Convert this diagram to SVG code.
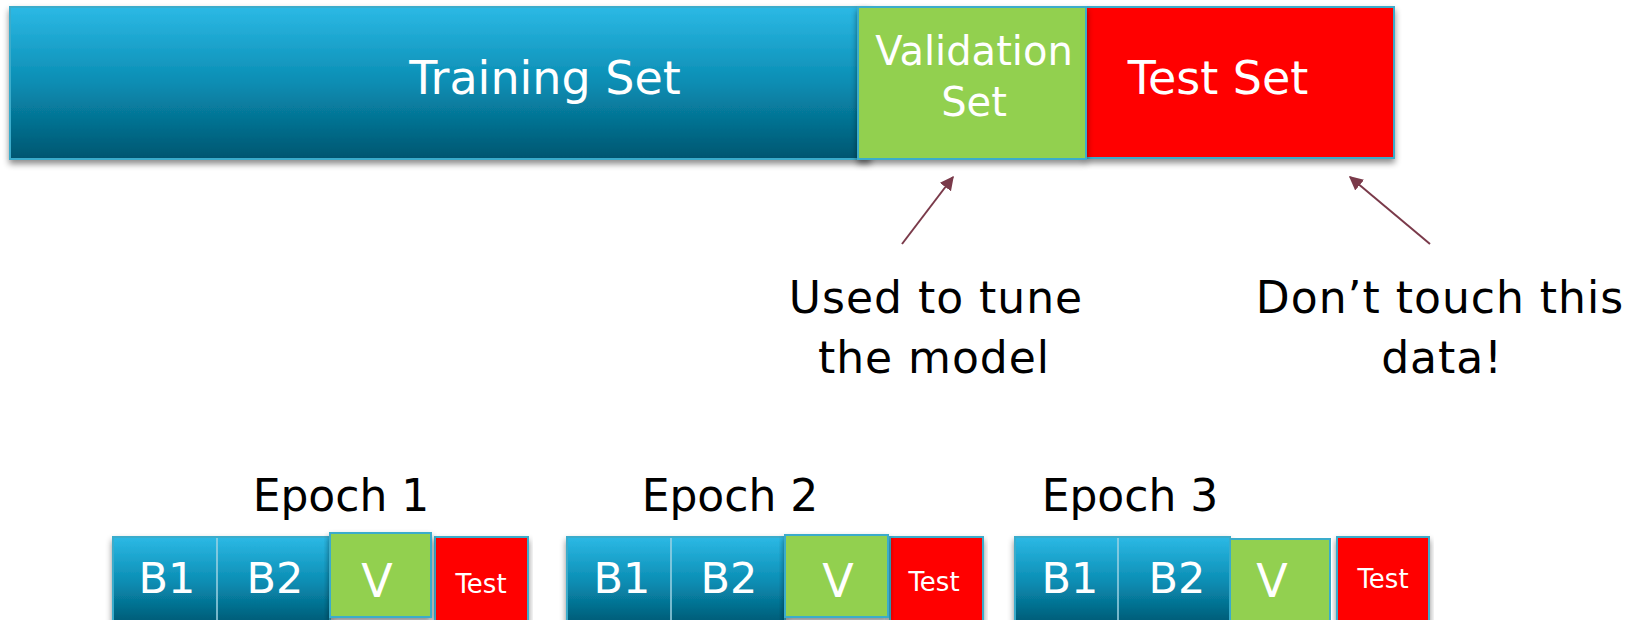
<svg xmlns="http://www.w3.org/2000/svg" width="1644" height="620" viewBox="0 0 1644 620">
  <defs>
    <linearGradient id="blueGrad" x1="0" y1="0" x2="0" y2="1">
      <stop offset="0" stop-color="#2cb9e5"/>
      <stop offset="0.5" stop-color="#0a8db3"/>
      <stop offset="1" stop-color="#005670"/>
    </linearGradient>
    <filter id="shadow" x="-5%" y="-10%" width="110%" height="130%">
      <feDropShadow dx="0" dy="4" stdDeviation="3" flood-color="#000" flood-opacity="0.45"/>
    </filter>
    <marker id="arrowHead" viewBox="0 0 10 10" refX="9" refY="5" markerWidth="7" markerHeight="7" orient="auto" markerUnits="strokeWidth">
      <path d="M0,0 L10,5 L0,10 z" fill="#7a3a4a"/>
    </marker>
  </defs>
  <style>
    .train { fill: url(#blueGrad); stroke: #3aaccb; stroke-width: 2; }
    .valid { fill: #92d050; stroke: #3aaccb; stroke-width: 2; }
    .test { fill: #ff0000; stroke: #3aaccb; stroke-width: 2; }
    .sep { stroke: #9fd3e3; stroke-width: 1.5; }
    .lbl { font-family: "DejaVu Sans", "Liberation Sans", sans-serif; fill: #ffffff; text-anchor: middle; }
    .dark { font-family: "DejaVu Sans", "Liberation Sans", sans-serif; fill: #000000; text-anchor: middle; }
    .note { font-size: 44px; letter-spacing: 1px; }
    .arrow { stroke: #7a3a4a; stroke-width: 2; fill: none; marker-end: url(#arrowHead); }
  </style>

  <rect width="1644" height="620" fill="#ffffff"/>

  <!-- Top split: training / validation / test -->
  <g id="training-set">
    <rect class="train" x="10" y="7" width="860" height="152" filter="url(#shadow)"/>
    <text class="lbl" x="545" y="94" font-size="46">Training Set</text>
  </g>
  <g id="test-set">
    <rect class="test" x="1086" y="7" width="308" height="151" filter="url(#shadow)"/>
    <text class="lbl" x="1218" y="94" font-size="46">Test Set</text>
  </g>
  <g id="validation-set">
    <rect class="valid" x="858" y="7" width="228" height="152" filter="url(#shadow)"/>
    <text class="lbl" x="974" y="65" font-size="40">Validation</text>
    <text class="lbl" x="974" y="116" font-size="40">Set</text>
  </g>

  <!-- Annotations -->
  <g id="note-validation">
    <text class="dark note" x="936" y="313">Used to tune</text>
    <text class="dark note" x="934" y="373">the model</text>
  </g>
  <g id="note-test">
    <text class="dark note" x="1440" y="313">Don’t touch this</text>
    <text class="dark note" x="1442" y="373">data!</text>
  </g>

  <g id="connectors">
    <line class="arrow" x1="902" y1="244" x2="953" y2="177"/>
    <line class="arrow" x1="1430" y1="244" x2="1350" y2="177"/>
  </g>

  <!-- Epoch 1 -->
  <g id="epoch-1">
    <text class="dark" x="341" y="511" font-size="44">Epoch 1</text>
    <rect class="train" x="113" y="537" width="217" height="90" filter="url(#shadow)"/>
    <line class="sep" x1="217" y1="538" x2="217" y2="620"/>
    <text class="lbl" x="167" y="593" font-size="43">B1</text>
    <text class="lbl" x="275" y="593" font-size="43">B2</text>
    <rect class="test" x="435" y="537" width="93" height="90" filter="url(#shadow)"/>
    <text class="lbl" x="481" y="593" font-size="26">Test</text>
    <rect class="valid" x="330" y="533" width="101" height="84" filter="url(#shadow)"/>
    <text class="lbl" x="377" y="597" font-size="46">V</text>
  </g>

  <!-- Epoch 2 -->
  <g id="epoch-2">
    <text class="dark" x="730" y="511" font-size="44">Epoch 2</text>
    <rect class="train" x="567" y="537" width="218" height="90" filter="url(#shadow)"/>
    <line class="sep" x1="671" y1="538" x2="671" y2="620"/>
    <text class="lbl" x="622" y="593" font-size="43">B1</text>
    <text class="lbl" x="729" y="593" font-size="43">B2</text>
    <rect class="test" x="890" y="537" width="93" height="90" filter="url(#shadow)"/>
    <text class="lbl" x="934" y="591" font-size="26">Test</text>
    <rect class="valid" x="785" y="535" width="103" height="82" filter="url(#shadow)"/>
    <text class="lbl" x="838" y="597" font-size="46">V</text>
  </g>

  <!-- Epoch 3 -->
  <g id="epoch-3">
    <text class="dark" x="1130" y="511" font-size="44">Epoch 3</text>
    <rect class="train" x="1015" y="537" width="215" height="90" filter="url(#shadow)"/>
    <line class="sep" x1="1118" y1="538" x2="1118" y2="620"/>
    <text class="lbl" x="1070" y="593" font-size="43">B1</text>
    <text class="lbl" x="1177" y="593" font-size="43">B2</text>
    <rect class="test" x="1337" y="537" width="92" height="90" filter="url(#shadow)"/>
    <text class="lbl" x="1383" y="588" font-size="26">Test</text>
    <rect class="valid" x="1230" y="539" width="100" height="88"/>
    <text class="lbl" x="1272" y="597" font-size="46">V</text>
  </g>
</svg>
